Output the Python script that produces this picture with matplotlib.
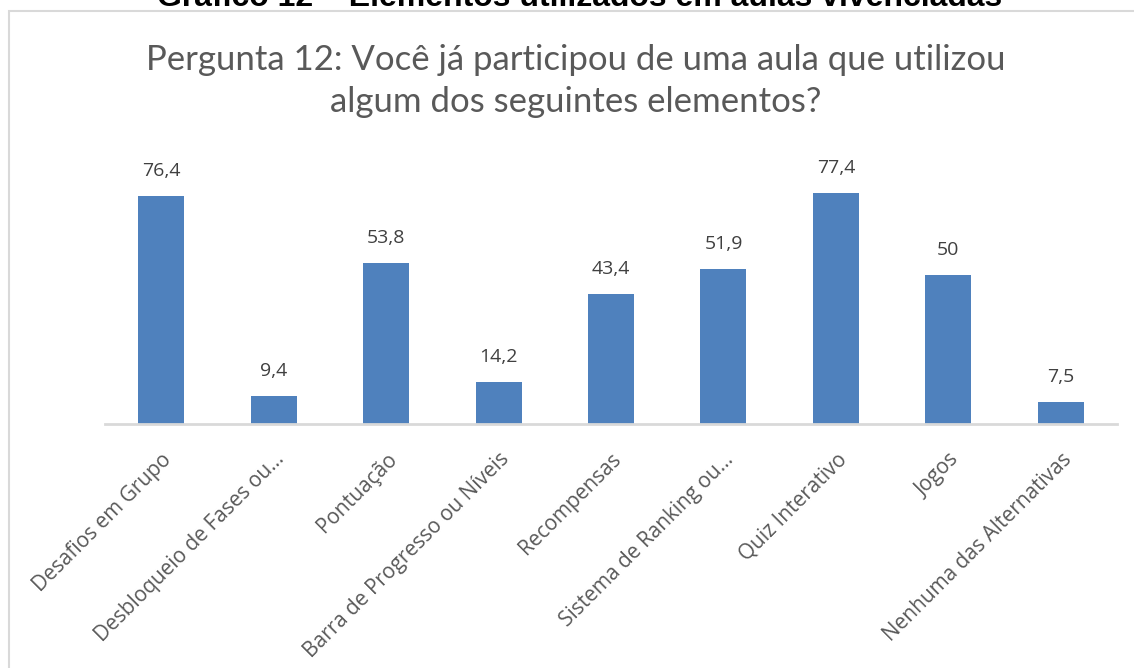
import matplotlib.pyplot as plt
from matplotlib.patches import Rectangle

# Dados do gráfico
categorias = [
    'Desafios em Grupo',
    'Desbloqueio de Fases ou...',
    'Pontuação',
    'Barra de Progresso ou Níveis',
    'Recompensas',
    'Sistema de Ranking ou...',
    'Quiz Interativo',
    'Jogos',
    'Nenhuma das Alternativas',
]
valores = [76.4, 9.4, 53.8, 14.2, 43.4, 51.9, 77.4, 50, 7.5]
rotulos = ['76,4', '9,4', '53,8', '14,2', '43,4', '51,9', '77,4', '50', '7,5']

fig = plt.figure(figsize=(11.34, 6.68), dpi=100)

# Moldura do gráfico
fig.patches.append(Rectangle((9 / 1134, -0.01), 1.02, 1 - 11 / 668 + 0.01,
                             transform=fig.transFigure, fill=False,
                             edgecolor='#d9d9d9', linewidth=1.5))

# Título cortado no topo
fig.text(0.511, 1 - 6 / 668, 'Gráfico 12 – Elementos utilizados em aulas vivenciadas',
         ha='center', va='baseline', fontsize=23, fontweight='bold',
         family='Liberation Sans', color='black')

fig.text(0.508, 1 - 60 / 668, 'Pergunta 12: Você já participou de uma aula que utilizou',
         ha='center', va='center', fontsize=25, family='Lato', color='#595959')
fig.text(0.508, 1 - 102 / 668, 'algum dos seguintes elementos?',
         ha='center', va='center', fontsize=25, family='Lato', color='#595959')

ax = fig.add_axes([105 / 1134, 1 - 424 / 668, (1117 - 105) / 1134, (424 - 155) / 668])
x = range(len(categorias))
barras = ax.bar(x, valores, width=0.41, color='#4f81bd')

for b, r in zip(barras, rotulos):
    ax.annotate(r, (b.get_x() + b.get_width() / 2, b.get_height()),
                xytext=(0, 18), textcoords='offset points', ha='center', va='center',
                fontsize=14, family='Open Sans', color='#404040')

ax.set_xlim(-0.5, len(categorias) - 0.5)
ax.set_ylim(0, 90)
ax.set_xticks(list(x))
ax.set_xticklabels(categorias, rotation=45, ha='right', va='top', rotation_mode='anchor',
                   fontsize=15, family='Open Sans', color='#595959')
ax.tick_params(axis='x', length=0, pad=18)
ax.set_yticks([])
for s in ['top', 'left', 'right']:
    ax.spines[s].set_visible(False)
ax.spines['bottom'].set_color('#d9d9d9')
ax.spines['bottom'].set_linewidth(2)

fig.savefig('out.png', dpi=100)
